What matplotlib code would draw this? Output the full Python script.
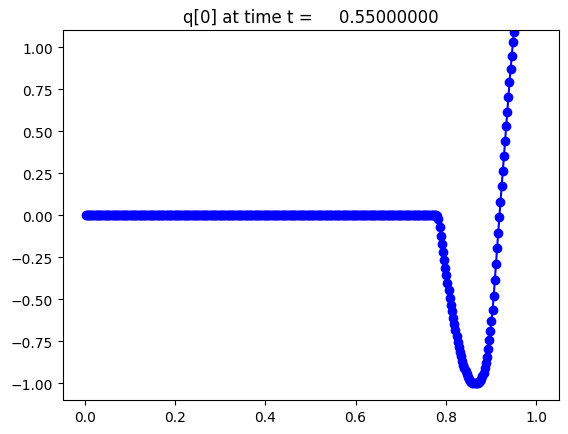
import numpy as np
import matplotlib
matplotlib.use("Agg")
import matplotlib.pyplot as plt

# Grid: 400 cells on [0, 1], cell centres
n_cells = 400
x_all = (np.arange(n_cells) + 0.5) / n_cells

# q[0] values
q_flat = [0.0] * 312  # cells 0..311 are zero
q_wave = [
    -0.005, -0.022, -0.073, -0.122, -0.170, -0.218, -0.265, -0.312, -0.358, -0.403,
    -0.447, -0.490, -0.532, -0.573, -0.612, -0.650, -0.686, -0.721, -0.754, -0.785,
    -0.814, -0.841, -0.867, -0.890, -0.911, -0.930, -0.947, -0.962, -0.974, -0.984,
    -0.991, -0.996, -0.999, -1.000, -1.000, -1.000, -0.998, -0.993, -0.985, -0.973,
    -0.957, -0.937, -0.912, -0.882, -0.845, -0.798, -0.744, -0.690, -0.632, -0.566,
    -0.480, -0.385, -0.290, -0.196, -0.103, -0.010, 0.079, 0.171, 0.264, 0.353,
    0.442, 0.532, 0.617, 0.704, 0.790, 0.869, 0.948, 1.028, 1.093, 1.160,
    1.230,
]
q = np.array(q_flat + q_wave)
x = x_all[: len(q)]

t_value = 0.55

fig = plt.figure(figsize=(5.68, 4.35), dpi=100)
ax = fig.add_axes([62.5 / 568, 34 / 435, 496 / 568, 369.6 / 435])
ax.plot(x, q, "bo-")
ax.set_xlim(-0.0499, 1.0499)
ax.set_ylim(-1.1, 1.1)
ax.set_title("q[0] at time t = %14.8f" % t_value)
fig.savefig("out.png", dpi=100)
